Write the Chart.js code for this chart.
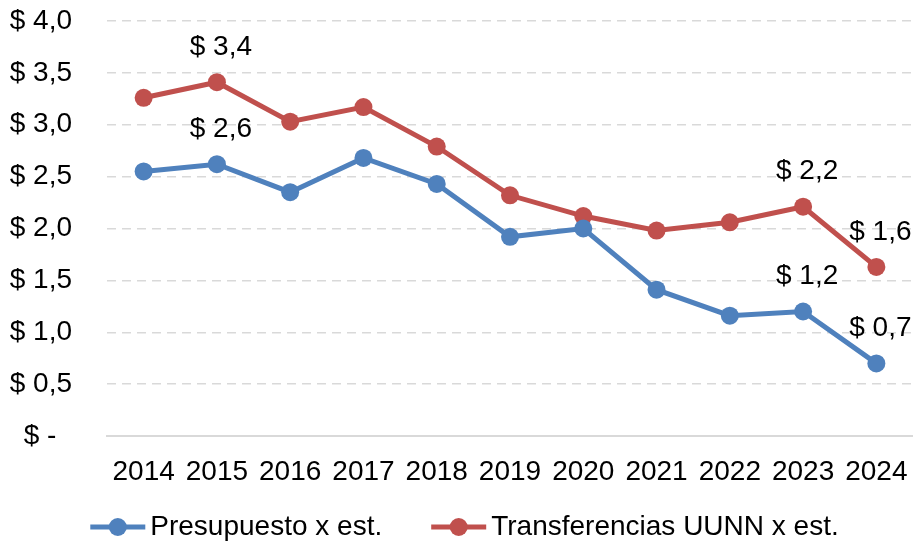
<!DOCTYPE html>
<html>
<head>
<meta charset="utf-8">
<script src="https://cdn.jsdelivr.net/npm/chart.js@4/dist/chart.umd.min.js"></script>
<style>
  html, body { margin: 0; padding: 0; background: #fff; }
</style>
</head>
<body>
<canvas id="chart" width="913" height="541"></canvas>
<script>
// data
const years = ['2014', '2015', '2016', '2017', '2018', '2019', '2020', '2021', '2022', '2023', '2024'];
const presupuesto = [2.55, 2.62, 2.35, 2.68, 2.43, 1.92, 2.00, 1.41, 1.16, 1.20, 0.70];
const transferencias = [3.26, 3.41, 3.03, 3.17, 2.79, 2.32, 2.12, 1.98, 2.06, 2.21, 1.63];
const labeledYears = ['2015', '2023', '2024'];
const seriesNames = ['Presupuesto x est.', 'Transferencias UUNN x est.'];

const BLUE = '#4F81BD';
const RED = '#C0504D';
const FONT = "'Liberation Sans', Arial, sans-serif";

const money = v => v === 0 ? '$ -  ' : '$ ' + v.toFixed(1).replace('.', ',');

// value labels above some of the points
const pointLabels = {
  id: 'pointLabels',
  afterDatasetsDraw(chart) {
    const ctx = chart.ctx;
    ctx.save();
    ctx.font = '28px ' + FONT;
    ctx.fillStyle = '#000';
    ctx.textAlign = 'center';
    ctx.textBaseline = 'middle';
    chart.data.datasets.forEach((ds, i) => {
      const meta = chart.getDatasetMeta(i);
      meta.data.forEach((pt, j) => {
        if (!labeledYears.includes(chart.data.labels[j])) return;
        ctx.fillText(money(ds.data[j]), pt.x + 4, pt.y - 35);
      });
    });
    ctx.restore();
  }
};

// excel-like legend: line with marker, then text
const lineLegend = {
  id: 'lineLegend',
  afterDraw(chart) {
    const ctx = chart.ctx;
    ctx.save();
    ctx.font = '28px ' + FONT;
    const markW = 55, gap = 5, itemGap = 49;
    const items = chart.data.datasets.map(ds => ({
      text: ds.label, color: ds.borderColor, w: ctx.measureText(ds.label).width
    }));
    const total = items.reduce((s, it) => s + markW + gap + it.w, 0) + itemGap * (items.length - 1);
    let x = chart.width / 2 + 8 - total / 2;
    const y = 527;
    items.forEach(it => {
      ctx.strokeStyle = it.color;
      ctx.lineWidth = 5;
      ctx.beginPath();
      ctx.moveTo(x, y);
      ctx.lineTo(x + markW, y);
      ctx.stroke();
      ctx.fillStyle = it.color;
      ctx.beginPath();
      ctx.arc(x + markW / 2, y, 9, 0, Math.PI * 2);
      ctx.fill();
      ctx.fillStyle = '#000';
      ctx.textAlign = 'left';
      ctx.textBaseline = 'middle';
      ctx.fillText(it.text, x + markW + gap, y);
      x += markW + gap + it.w + itemGap;
    });
    ctx.restore();
  }
};

const noPad = s => {
  s.paddingTop = 0;
  s.paddingRight = 0;
  s.paddingLeft = 0;
  s.paddingBottom = 0;
};

Chart.defaults.font.family = FONT;
Chart.defaults.font.size = 28;
Chart.defaults.color = '#000';

const ctx = document.getElementById('chart');
const chart = new Chart(ctx, {
  type: 'line',
  data: {
    labels: years,
    datasets: [
      {
        label: seriesNames[0],
        data: presupuesto,
        borderColor: BLUE,
        backgroundColor: BLUE,
        borderWidth: 5,
        pointRadius: 9,
        pointHoverRadius: 9,
        pointBorderWidth: 0,
        tension: 0,
      },
      {
        label: seriesNames[1],
        data: transferencias,
        borderColor: RED,
        backgroundColor: RED,
        borderWidth: 5,
        pointRadius: 9,
        pointHoverRadius: 9,
        pointBorderWidth: 0,
        tension: 0,
      },
    ],
  },
  options: {
    responsive: false,
    animation: false,
    layout: { autoPadding: false, padding: { left: 8, right: 0, top: 21, bottom: 52 } },
    plugins: {
      legend: { display: false },
      tooltip: { enabled: false },
    },
    scales: {
      x: {
        offset: true,
        grid: { display: false, drawTicks: false },
        border: { display: true, color: '#d9d9d9', width: 2 },
        ticks: { padding: 19, maxRotation: 0, autoSkip: false, font: { size: 28 } },
        afterFit: s => { s.height = 53; noPad(s); },
      },
      y: {
        min: 0,
        max: 4,
        grid: {
          drawTicks: false,
          color: c => c.tick && c.tick.value === 0 ? 'rgba(0,0,0,0)' : '#d9d9d9',
          lineWidth: 1.5,
        },
        border: { display: false, dash: [9, 6] },
        ticks: { stepSize: 0.5, padding: 35, font: { size: 28 }, callback: v => money(v) },
        afterFit: s => { s.width = 99; noPad(s); },
      },
    },
  },
  plugins: [pointLabels, lineLegend],
});
</script>
</body>
</html>
